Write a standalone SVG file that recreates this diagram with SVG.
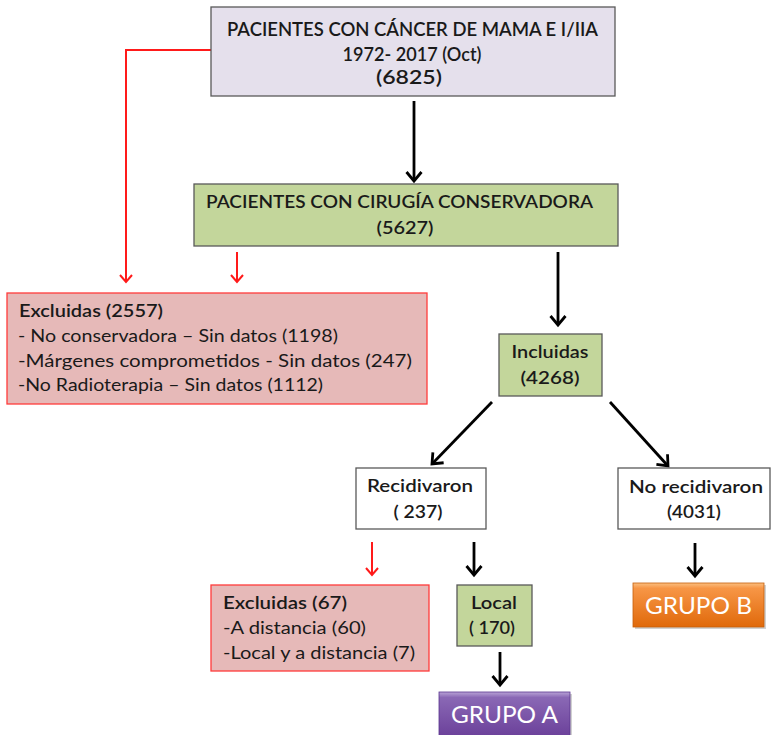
<svg xmlns="http://www.w3.org/2000/svg" width="772" height="735" viewBox="0 0 772 735">
<defs>
<style>
text{font-family:Lato,"Open Sans","Liberation Sans",sans-serif;fill:#1a1a1a;}
.b{font-weight:600;}
.c{text-anchor:middle;}
.box{stroke:#595959;stroke-width:1.3;}
.lav{fill:#e5e0ec;}
.grn{fill:#c3d69b;}
.pink{fill:#e6b9b8;stroke:#ff3b3b;stroke-width:1.3;}
.wht{fill:#ffffff;}
.blk{stroke:#000;stroke-width:2.8;fill:none;}
.red{stroke:#ff1a1a;stroke-width:2;fill:none;}
.grp{fill:#ffffff;font-size:24px;}
</style>
<marker id="ab" markerUnits="userSpaceOnUse" viewBox="0 0 20 20" markerWidth="20" markerHeight="20" refX="14" refY="10" orient="auto">
<path d="M5,2.5 L14,10 L5,17.5" fill="none" stroke="#000" stroke-width="2.8"/>
</marker>
<marker id="ar" markerUnits="userSpaceOnUse" viewBox="0 0 20 20" markerWidth="20" markerHeight="20" refX="14" refY="10" orient="auto">
<path d="M7,4 L14,10 L7,16" fill="none" stroke="#ff1a1a" stroke-width="2"/>
</marker>
<linearGradient id="gOr" x1="0" y1="0" x2="0" y2="1">
<stop offset="0" stop-color="#fbbf80"/>
<stop offset="0.12" stop-color="#f79646"/>
<stop offset="1" stop-color="#e0690a"/>
</linearGradient>
<linearGradient id="gPu" x1="0" y1="0" x2="0" y2="1">
<stop offset="0" stop-color="#b9a3d6"/>
<stop offset="0.12" stop-color="#8a68b5"/>
<stop offset="1" stop-color="#6a3f99"/>
</linearGradient>
</defs>
<rect width="772" height="735" fill="#ffffff"/>

<g id="connectors">
<polyline class="red" points="211,50 126,50 126,282" marker-end="url(#ar)"/>
<line class="red" x1="237" y1="252" x2="237" y2="282" marker-end="url(#ar)"/>
<line class="blk" x1="414" y1="101" x2="414" y2="181" marker-end="url(#ab)"/>
<line class="blk" x1="558" y1="252" x2="558" y2="325" marker-end="url(#ab)"/>
<line class="blk" x1="492" y1="402" x2="432" y2="464" marker-end="url(#ab)"/>
<line class="blk" x1="610" y1="402" x2="668" y2="466" marker-end="url(#ab)"/>
<line class="red" x1="372" y1="542" x2="372" y2="575" marker-end="url(#ar)"/>
<line class="blk" x1="474" y1="542" x2="474" y2="575" marker-end="url(#ab)"/>
<line class="blk" x1="695" y1="543" x2="695" y2="576" marker-end="url(#ab)"/>
<line class="blk" x1="500" y1="652" x2="500" y2="685" marker-end="url(#ab)"/>
</g>

<g id="n-top">
<rect class="box lav" x="211" y="7" width="404" height="89"/>
<text class="b" x="227" y="36" font-size="20" textLength="371" lengthAdjust="spacingAndGlyphs">PACIENTES CON CÁNCER DE MAMA E I/IIA</text>
<text class="b c" x="412" y="61" font-size="20" textLength="139" lengthAdjust="spacingAndGlyphs">1972- 2017 (Oct)</text>
<text class="b c" x="409" y="84" font-size="20" textLength="66" lengthAdjust="spacingAndGlyphs">(6825)</text>
</g>

<g id="n-cirugia">
<rect class="box grn" x="194" y="184" width="424" height="62"/>
<text class="b" x="206" y="208" font-size="17.5" textLength="387" lengthAdjust="spacingAndGlyphs">PACIENTES CON CIRUGÍA CONSERVADORA</text>
<text class="b c" x="405" y="234" font-size="18" textLength="57" lengthAdjust="spacingAndGlyphs">(5627)</text>
</g>

<g id="n-excl1">
<rect class="pink" x="7" y="293" width="420" height="111"/>
<text class="b" x="19" y="317" font-size="17.5" textLength="144" lengthAdjust="spacingAndGlyphs">Excluidas (2557)</text>
<text x="18" y="342" font-size="17.5" textLength="320" lengthAdjust="spacingAndGlyphs">- No conservadora – Sin datos (1198)</text>
<text x="18" y="367" font-size="17.5" textLength="394" lengthAdjust="spacingAndGlyphs">-Márgenes comprometidos  - Sin datos (247)</text>
<text x="18" y="391" font-size="17.5" textLength="305" lengthAdjust="spacingAndGlyphs">-No Radioterapia – Sin datos (1112)</text>
</g>

<g id="n-incl">
<rect class="box grn" x="499" y="334" width="103" height="62"/>
<text class="b c" x="550" y="358" font-size="18" textLength="77" lengthAdjust="spacingAndGlyphs">Incluidas</text>
<text class="b c" x="550" y="384" font-size="18" textLength="59" lengthAdjust="spacingAndGlyphs">(4268)</text>
</g>

<g id="n-recid">
<rect class="box wht" x="356" y="468" width="130" height="61"/>
<text class="b c" x="420" y="492" font-size="18" textLength="106" lengthAdjust="spacingAndGlyphs">Recidivaron</text>
<text class="b c" x="418" y="518" font-size="18" textLength="49" lengthAdjust="spacingAndGlyphs">( 237)</text>
</g>

<g id="n-norecid">
<rect class="box wht" x="618" y="468" width="152" height="61"/>
<text class="b c" x="696" y="493" font-size="18" textLength="134" lengthAdjust="spacingAndGlyphs">No recidivaron</text>
<text class="b c" x="694" y="518" font-size="18" textLength="54" lengthAdjust="spacingAndGlyphs">(4031)</text>
</g>

<g id="n-excl2">
<rect class="pink" x="211" y="585" width="218" height="86"/>
<text class="b" x="223" y="609" font-size="17.5" textLength="124" lengthAdjust="spacingAndGlyphs">Excluidas (67)</text>
<text x="223" y="634" font-size="17.5" textLength="143" lengthAdjust="spacingAndGlyphs">-A distancia (60)</text>
<text x="223" y="659" font-size="17.5" textLength="192" lengthAdjust="spacingAndGlyphs">-Local y a distancia (7)</text>
</g>

<g id="n-local">
<rect class="box grn" x="457" y="585" width="75" height="61"/>
<text class="b c" x="494" y="609" font-size="18" textLength="46" lengthAdjust="spacingAndGlyphs">Local</text>
<text class="b c" x="492" y="634" font-size="18" textLength="46" lengthAdjust="spacingAndGlyphs">( 170)</text>
</g>

<g id="n-grupob">
<rect x="635" y="585" width="131" height="44" fill="#000" opacity="0.18"/>
<rect x="633" y="583" width="131" height="44" fill="url(#gOr)" stroke="#c65f0a" stroke-width="0.8"/>
<text class="grp" x="645" y="614" textLength="107" lengthAdjust="spacingAndGlyphs">GRUPO B</text>
</g>

<g id="n-grupoa">
<rect x="441" y="694" width="131" height="44" fill="#000" opacity="0.18"/>
<rect x="439" y="692" width="131" height="46" fill="url(#gPu)" stroke="#5a3590" stroke-width="0.8"/>
<text class="grp" x="451" y="723" textLength="107" lengthAdjust="spacingAndGlyphs">GRUPO A</text>
</g>
</svg>
